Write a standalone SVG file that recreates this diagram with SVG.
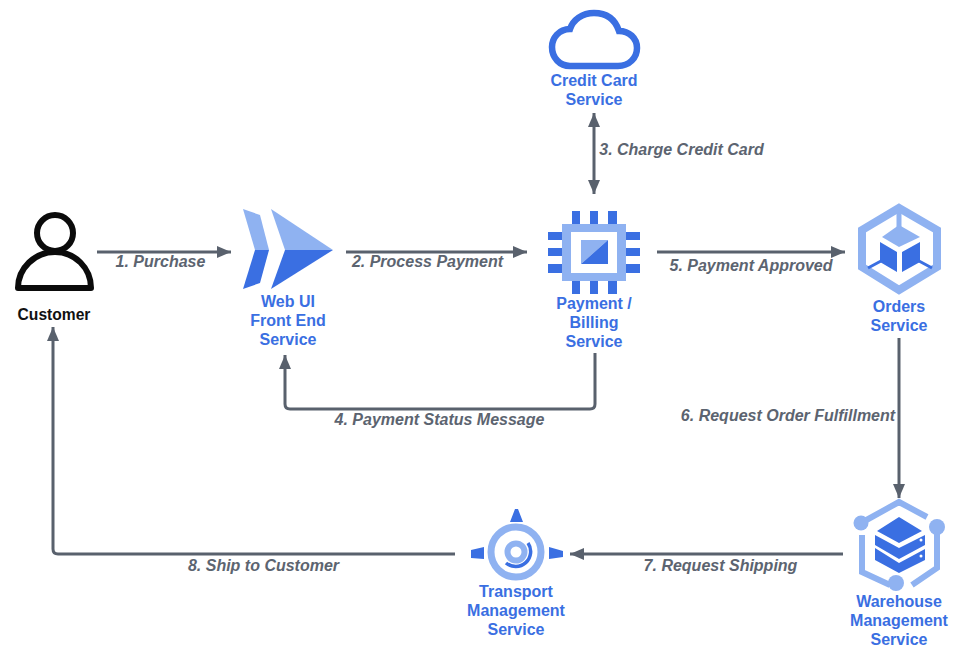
<svg xmlns="http://www.w3.org/2000/svg" width="959" height="656" viewBox="0 0 959 656">
<style>
.n{font:bold 16px "Liberation Sans",Arial,sans-serif;fill:#3a6fe2;text-anchor:middle}
.l{font:italic bold 16px "Liberation Sans",Arial,sans-serif;fill:#5c6470;text-anchor:middle}
.c{fill:none;stroke:#59616d;stroke-width:3}
.d{fill:#3a6fe2}.p{fill:#8fb2f1}
.ps{fill:none;stroke:#8fb2f1}
</style>
<defs>
<marker id="a" markerUnits="userSpaceOnUse" markerWidth="16" markerHeight="14" refX="14" refY="7" orient="auto-start-reverse"><path d="M0 1L14 7L0 13Z" fill="#59616d"/></marker>
</defs>
<rect width="959" height="656" fill="#fff"/>
<g id="connectors">
<path class="c" marker-end="url(#a)" d="M97 252H231"/>
<path class="c" marker-end="url(#a)" d="M346 252H527"/>
<path class="c" marker-start="url(#a)" marker-end="url(#a)" d="M594 113V194"/>
<path class="c" marker-end="url(#a)" d="M595 353V404Q595 409 590 409H290Q285 409 285 404V355"/>
<path class="c" marker-end="url(#a)" d="M657 252H845"/>
<path class="c" marker-end="url(#a)" d="M899 338V498"/>
<path class="c" marker-end="url(#a)" d="M843 554H570"/>
<path class="c" marker-end="url(#a)" d="M455 554H58Q53 554 53 549V327"/>
<text class="l" x="160.500" y="267">1. Purchase</text>
<text class="l" x="427.500" y="267">2. Process Payment</text>
<text class="l" x="681.500" y="155">3. Charge Credit Card</text>
<text class="l" x="439.500" y="425">4. Payment Status Message</text>
<text class="l" x="751" y="271">5. Payment Approved</text>
<text class="l" x="788" y="421">6. Request Order Fulfillment</text>
<text class="l" x="720.500" y="571">7. Request Shipping</text>
<text class="l" x="263.500" y="571">8. Ship to Customer</text>
</g>
<g id="customer">
<circle cx="55" cy="233" r="18" fill="none" stroke="#0b0b0b" stroke-width="6"/>
<path d="M18 288H91C91 268 75 252 55 252C35 252 18 268 18 288Z" fill="none" stroke="#0b0b0b" stroke-width="6" stroke-linejoin="round"/>
<text x="54" y="320" style="font:bold 15.600px 'Liberation Sans',Arial,sans-serif;fill:#111;text-anchor:middle">Customer</text>
</g>
<g id="webui">
<path class="p" d="M243 209L260 215L269 250H255Z"/>
<path class="d" d="M255 250H269L260 283L243 289Z"/>
<path class="p" d="M271 209L333 250H285Z"/>
<path class="d" d="M285 250H333L271 289Z"/>
<text class="n" x="288" y="307">Web UI</text>
<text class="n" x="288" y="326">Front End</text>
<text class="n" x="288" y="345">Service</text>
</g>
<g id="creditcard">
<path d="M570 66H618C629 66 637 58 637 48C637 38 629 31 619 31C615 19 606 13 594 13C582 13 573 20 570 29C559 29 552 38 552 47C552 58 560 66 570 66Z" fill="none" stroke="#3a6fe2" stroke-width="6.500"/>
<text class="n" x="594" y="86">Credit Card</text>
<text class="n" x="594" y="105">Service</text>
</g>
<g id="payment">
<path class="d" d="M572 211h8v13h-8zM590 211h8v13h-8zM608 211h9v13h-9zM572 281h8v13h-8zM590 281h8v13h-8zM608 281h9v13h-9zM548 232h14v8h-14zM548 248h14v8h-14zM548 264h14v9h-14zM626 232h14v8h-14zM626 248h14v8h-14zM626 264h14v9h-14z"/>
<path class="p" fill-rule="evenodd" d="M562 224H626V281H562ZM571 232V273H617V232Z"/>
<path class="p" d="M581 240H608L581 264Z"/>
<path class="d" d="M608 240V264H581Z"/>
<text class="n" x="594" y="309">Payment /</text>
<text class="n" x="594" y="328">Billing</text>
<text class="n" x="594" y="347">Service</text>
</g>
<g id="orders">
<path class="ps" stroke-width="8" d="M899 208L937 230V267L899 290L862 267V230Z"/>
<path class="ps" stroke-width="5" d="M899 208V228"/>
<path class="p" d="M899 225L920 237L899 247L882 237Z"/>
<path class="d" d="M880 242L897 252V272L880 262ZM902 252L920 242V262L902 272Z"/>
<path fill="none" stroke="#3a6fe2" stroke-width="3" d="M881 261L868 268M919 261L932 268"/>
<text class="n" x="899" y="312">Orders</text>
<text class="n" x="899" y="331">Service</text>
</g>
<g id="warehouse">
<path class="ps" stroke-width="6" d="M861 523L899 502L927 517M862 535V572L890 585M937 533V568L912 585"/>
<circle class="p" cx="861" cy="523" r="7.500"/>
<circle class="p" cx="937" cy="527" r="8"/>
<circle class="p" cx="896" cy="583" r="8"/>
<path class="d" d="M899 517L922 531L899 543L877 531ZM875 535L899 548L925 535V545L899 559L875 545ZM875 548L899 563L925 549V560L899 573L875 560Z"/>
<circle cx="921" cy="540" r="1.500" fill="#fff"/>
<circle cx="921" cy="556" r="1.500" fill="#fff"/>
<text class="n" x="899" y="607">Warehouse</text>
<text class="n" x="899" y="626">Management</text>
<text class="n" x="899" y="645">Service</text>
</g>
<g id="transport">
<circle cx="516" cy="552" r="25" fill="none" stroke="#8fb2f1" stroke-width="7"/>
<circle cx="516" cy="552" r="8.500" fill="none" stroke="#8fb2f1" stroke-width="6"/>
<path fill="none" stroke="#3a6fe2" stroke-width="3.500" d="M528 543A15 15 0 0 1 506 563"/>
<path class="d" d="M510 522L515 509H518L523 522ZM471 550L484 547V559L471 558ZM549 547L563 551V557L549 559Z"/>
<text class="n" x="516" y="597">Transport</text>
<text class="n" x="516" y="616">Management</text>
<text class="n" x="516" y="635">Service</text>
</g>
</svg>
